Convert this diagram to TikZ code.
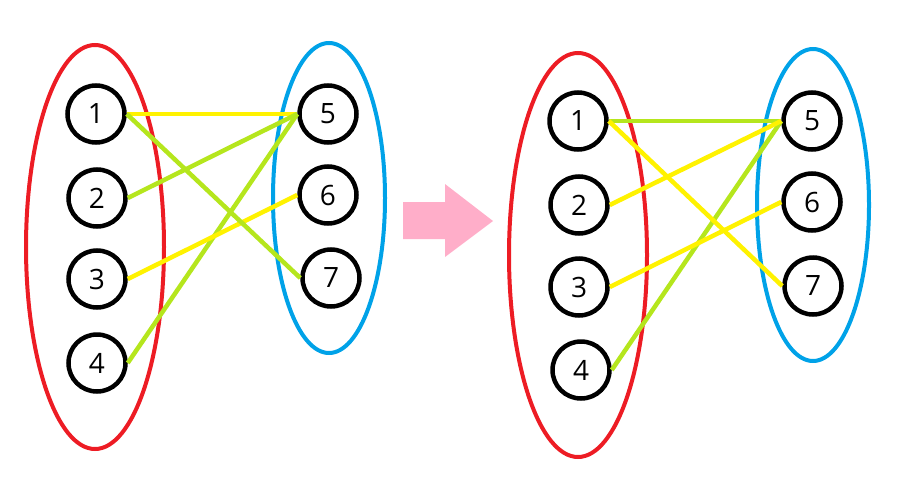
\documentclass[tikz,border=0pt]{standalone}
\usepackage{fontspec}
\setmainfont{Open Sans}
\usetikzlibrary{positioning}

\definecolor{setred}{RGB}{237,28,36}
\definecolor{setblue}{RGB}{0,162,232}
\definecolor{edgeyellow}{RGB}{255,242,0}
\definecolor{edgegreen}{RGB}{181,230,29}
\definecolor{arrowpink}{RGB}{255,174,201}

\begin{document}
\begin{tikzpicture}[x=1pt,y=-1pt,
	vert/.style={circle,draw=black,line width=4.5pt,minimum size=57pt,inner sep=0pt,font=\fontsize{28}{28}\selectfont},
	grp/.style={line width=4pt},
	link/.style={line width=4.5pt}]
	\useasboundingbox (0,0) rectangle (899,487);

	% before
	\draw[grp,setred] (95,247) ellipse [x radius=69pt, y radius=202pt];
	\draw[grp,setblue] (329,198) ellipse [x radius=56pt, y radius=155pt];

	\node[vert] (a1) at (96,114){1};
	\node[vert] (a2) at (97,198){2};
	\node[vert] (a3) at (97,279){3};
	\node[vert] (a4) at (97,363){4};
	\node[vert] (a5) at (328,114){5};
	\node[vert] (a6) at (328,195){6};
	\node[vert] (a7) at (331,278){7};

	\draw[link,edgeyellow] (a1.east) -- (a5.west);
	\draw[link,edgegreen] (a2.east) -- (a5.west);
	\draw[link,edgegreen] (a4.east) -- (a5.west);
	\draw[link,edgeyellow] (a3.east) -- (a6.west);
	\draw[link,edgegreen] (a1.east) -- (a7.west);

	% arrow
	\fill[arrowpink] (403,202) -- (445,202) -- (445,184) -- (493,221) -- (445,257) -- (445,239) -- (403,239) -- cycle;

	% after
	\draw[grp,setred] (578,255) ellipse [x radius=69pt, y radius=202pt];
	\draw[grp,setblue] (813,205) ellipse [x radius=56pt, y radius=156pt];

	\node[vert] (b1) at (578,121){1};
	\node[vert] (b2) at (579,205){2};
	\node[vert] (b3) at (579,287){3};
	\node[vert] (b4) at (581,370){4};
	\node[vert] (b5) at (812,121){5};
	\node[vert] (b6) at (812,202){6};
	\node[vert] (b7) at (813,286){7};

	\draw[link,edgegreen] (b1.east) -- (b5.west);
	\draw[link,edgegreen] (b4.east) -- (b5.west);
	\draw[link,edgeyellow] (b2.east) -- (b5.west);
	\draw[link,edgeyellow] (b3.east) -- (b6.west);
	\draw[link,edgeyellow] (b1.east) -- (b7.west);
\end{tikzpicture}
\end{document}
